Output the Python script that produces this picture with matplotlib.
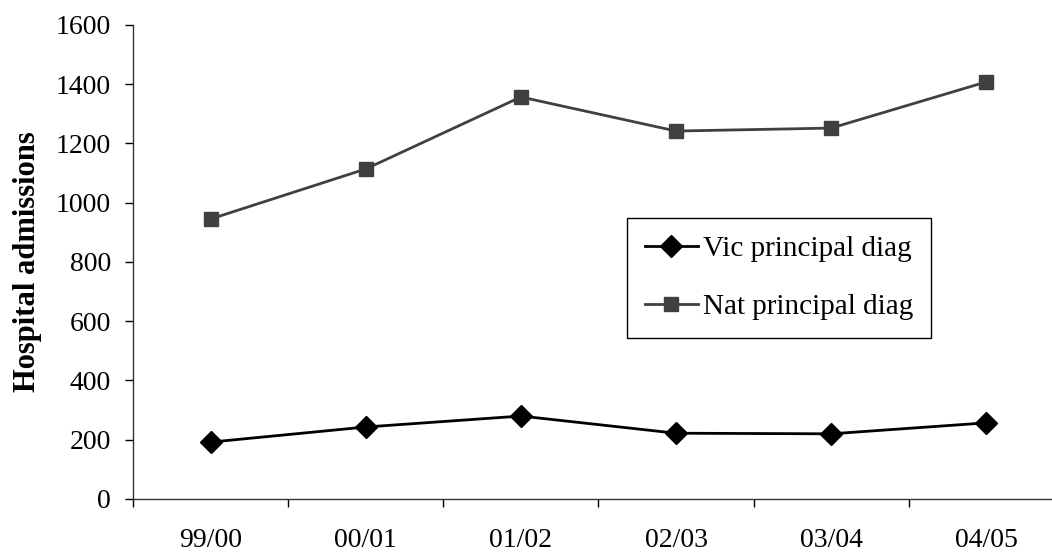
import matplotlib.pyplot as plt
import numpy as np

# Data
years = ["99/00", "00/01", "01/02", "02/03", "03/04", "04/05"]
vic_principal = [192, 243, 280, 222, 220, 257]
nat_principal = [945, 1114, 1357, 1242, 1252, 1408]

plt.rcParams['font.family'] = ['Liberation Serif', 'DejaVu Serif']

fig = plt.figure(figsize=(10.52, 5.54), dpi=100)
ax = fig.add_axes([0.1264, 0.0993, 0.885, 0.8556])

x = np.arange(len(years))
ax.plot(x, vic_principal, color='black', lw=2, marker='D', markersize=11,
        label='Vic principal diag')
ax.plot(x, nat_principal, color='#404040', lw=2, marker='s', markersize=10.5,
        label='Nat principal diag')

ax.set_xlim(-0.5, len(years) - 0.5)
ax.set_ylim(0, 1600)
ax.set_yticks(range(0, 1601, 200))
ax.tick_params(axis='y', labelsize=20, length=6, width=1, direction='out', pad=10)

ax.set_xticks(x)
ax.set_xticklabels(years)
ax.set_xticks(np.arange(-0.5, len(years), 1.0), minor=True)
ax.tick_params(axis='x', which='major', length=0, labelsize=20, pad=21)
ax.tick_params(axis='x', which='minor', length=6, width=1, direction='out')

for side in ['top', 'right']:
    ax.spines[side].set_visible(False)
for side in ['left', 'bottom']:
    ax.spines[side].set_color('#333333')
    ax.spines[side].set_linewidth(1)

ax.set_ylabel('Hospital admissions', fontsize=22, fontweight='bold', labelpad=10)

leg = ax.legend(loc='upper left', bbox_to_anchor=(627 / 1052, 1 - 218 / 554),
                bbox_transform=fig.transFigure, fancybox=False,
                edgecolor='black', framealpha=1, fontsize=21,
                handlelength=1.85, handletextpad=0.17, labelspacing=1.1,
                borderpad=0.6, borderaxespad=0)
leg.get_frame().set_linewidth(1)

fig.savefig('out.png', dpi=100)
